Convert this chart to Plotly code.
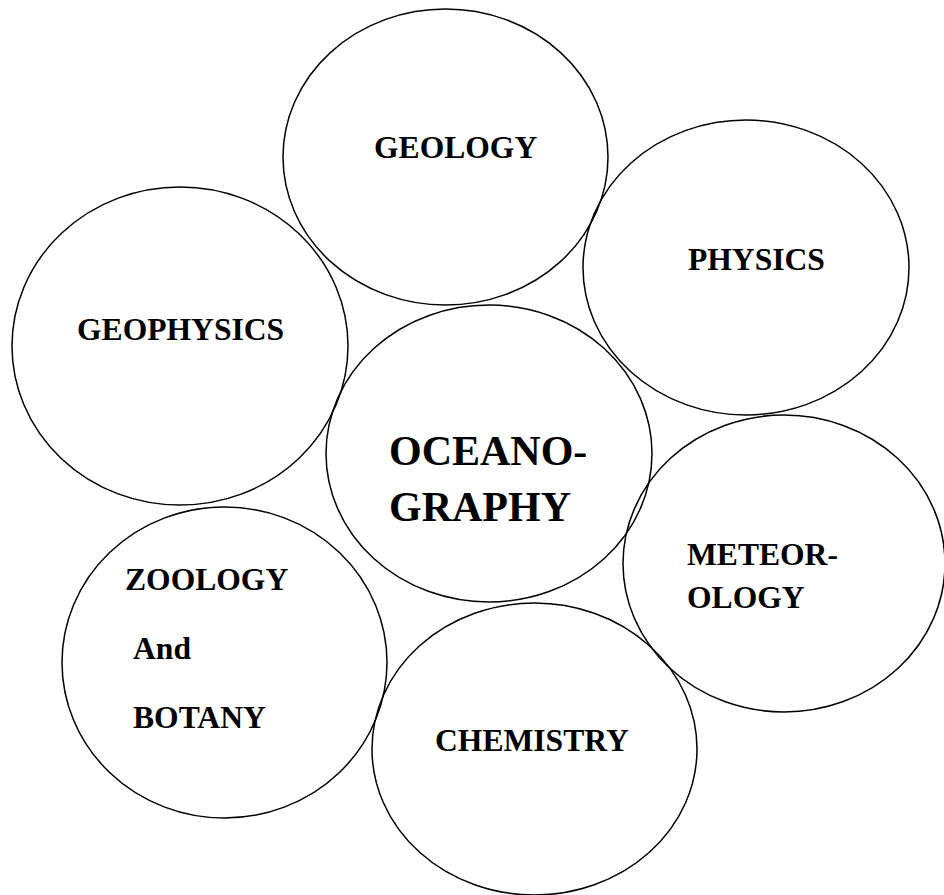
import plotly.graph_objects as go

# Circle (ellipse) data in pixel-like coordinates: center x, center y, radius x, radius y
circle_names = ["GEOLOGY", "PHYSICS", "GEOPHYSICS", "OCEANOGRAPHY", "METEOROLOGY", "ZOOLOGY", "CHEMISTRY"]
center_x = [445.5, 746, 180, 489, 784, 224.5, 534.5]
center_y = [157, 267.5, 346, 453.5, 563.5, 662.5, 749]
radius_x = [162.5, 163, 168, 163, 161, 162.5, 162.5]
radius_y = [148, 147.5, 159, 148.5, 148.5, 155.5, 146]

# Text labels: text, left x, vertical middle y, font size
label_text = ["GEOLOGY", "PHYSICS", "GEOPHYSICS", "OCEANO-", "GRAPHY", "METEOR-", "OLOGY",
              "ZOOLOGY", "And", "BOTANY", "CHEMISTRY"]
label_x = [374, 688, 77, 389, 389, 687, 687, 125, 133, 133, 435]
label_y = [147.5, 259.5, 329.5, 451, 507, 554.5, 597, 579.5, 648, 717, 740.5]
label_size = [31.6, 31.6, 31.6, 42, 42, 31.6, 31.6, 31.6, 31.6, 31.6, 31.6]

W, H = 944, 895

fig = go.Figure()

shapes = []
for cx, cy, rx, ry in zip(center_x, center_y, radius_x, radius_y):
    shapes.append(dict(
        type="circle", xref="x", yref="y",
        x0=cx - rx, x1=cx + rx, y0=cy - ry, y1=cy + ry,
        line=dict(color="black", width=1.5),
        fillcolor="rgba(0,0,0,0)",
        layer="above",
    ))

annotations = []
for t, x, y, s in zip(label_text, label_x, label_y, label_size):
    annotations.append(dict(
        text="<b>" + t + "</b>", x=x - 2, y=y, xref="x", yref="y",
        xanchor="left", yanchor="middle", showarrow=False,
        font=dict(family="Liberation Serif, Times New Roman, serif", size=s, color="black"),
    ))

# invisible trace to establish axes
fig.add_trace(go.Scatter(x=[0, W], y=[0, H], mode="markers", marker=dict(opacity=0),
                         hoverinfo="skip", showlegend=False))

fig.update_layout(
    width=W, height=H,
    margin=dict(l=0, r=0, t=0, b=0),
    paper_bgcolor="white", plot_bgcolor="white",
    shapes=shapes, annotations=annotations,
    xaxis=dict(range=[0, W], visible=False, showgrid=False, zeroline=False, fixedrange=True),
    yaxis=dict(range=[H, 0], visible=False, showgrid=False, zeroline=False, fixedrange=True),
    showlegend=False,
)

fig.write_html(
    "out.html",
    config={"displayModeBar": False},
    post_script="document.body.style.margin='0';document.body.style.overflow='hidden';",
)
